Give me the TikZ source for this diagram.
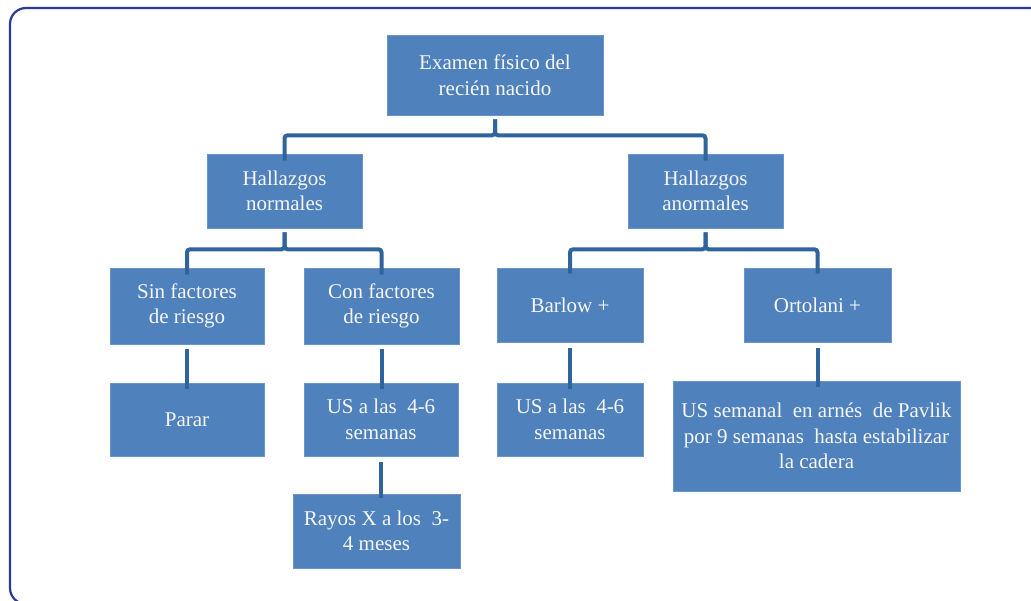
\documentclass[tikz,border=0pt]{standalone}
\usepackage{fontspec}
\setmainfont{Liberation Serif}
\usepackage{tikz}
\usetikzlibrary{positioning,calc}

\definecolor{boxblue}{HTML}{4F81BD}
\definecolor{linkblue}{HTML}{30649C}
\definecolor{framblue}{HTML}{2B3A96}

\begin{document}
\begin{tikzpicture}[x=1pt, y=-1pt,
  box/.style={fill=boxblue, draw=boxblue!85!white, line width=0.6pt, align=center, text=white!94!gray,
    font=\fontsize{21}{25.5}\selectfont, inner sep=0pt},
  link/.style={draw=linkblue, line width=4pt, rounded corners=3pt}]
  \useasboundingbox (0,0) rectangle (1031,601);
  \draw[framblue, line width=2.2pt, rounded corners=16pt] (10,8) rectangle (1060,604);

  % first levels
  \node[box, minimum width=216pt, minimum height=80pt] (root) at (495,75) {Examen físico del\\recién nacido};
  \node[box, minimum width=155pt, minimum height=74pt] (normal) at (284.5,191) {Hallazgos\\normales};
  \node[box, minimum width=155pt, minimum height=74pt] (abnormal) at (705.5,191) {Hallazgos\\anormales};

  % risk factors and tests
  \node[box, minimum width=154pt, minimum height=76pt] (sinrisk) at (187,306) {Sin factores\\de riesgo};
  \node[box, minimum width=155pt, minimum height=76pt] (conrisk) at (381.5,306) {Con factores\\de riesgo};
  \node[box, minimum width=146pt, minimum height=74pt] (barlow) at (570,305) {Barlow +};
  \node[box, minimum width=147pt, minimum height=74pt] (ortolani) at (817.5,305) {Ortolani +};

  % follow-up
  \node[box, minimum width=154pt, minimum height=73pt] (parar) at (187,419.5) {Parar};
  \node[box, minimum width=154pt, minimum height=73pt] (usnormal) at (381,419.5) {US a las\ \ 4-6\\semanas};
  \node[box, minimum width=146pt, minimum height=73pt] (usbarlow) at (570,419.5) {US a las\ \ 4-6\\semanas};
  \node[box, minimum width=287pt, minimum height=110pt] (pavlik) at (816.5,436) {US semanal\ \ en arnés\ \ de Pavlik\\por 9 semanas\ \ hasta estabilizar\\la cadera};
  \node[box, minimum width=167pt, minimum height=74pt] (rayos) at (376.5,531) {Rayos X a los\ \ 3-\\4 meses};

  \draw[link] ([yshift=-4pt]root.south) -- ++(0,16) -| ([yshift=-7pt]normal.north);
  \draw[link] ([yshift=-4pt]root.south) -- ++(0,16) -| ([yshift=-7pt]abnormal.north);
  \draw[link] ([yshift=-4pt]normal.south) -- ++(0,17) -| ([yshift=-7pt]sinrisk.north);
  \draw[link] ([yshift=-4pt]normal.south) -- ++(0,17) -| ([yshift=-7pt]conrisk.north);
  \draw[link] ([yshift=-4pt]abnormal.south) -- ++(0,17) -| ([yshift=-6pt]barlow.north);
  \draw[link] ([yshift=-4pt]abnormal.south) -- ++(0,17) -| ([yshift=-6pt]ortolani.north);
  \draw[link] ([yshift=-5pt]sinrisk.south) -- ([yshift=-6pt]parar.north);
  \draw[link] ([yshift=-5pt]conrisk.south) -- ([yshift=-6pt]conrisk.south |- usnormal.north);
  \draw[link] ([yshift=-6pt]barlow.south) -- ([yshift=-6pt]usbarlow.north);
  \draw[link] ([yshift=-6pt]ortolani.south) -- ([yshift=-6pt]ortolani.south |- pavlik.north);
  \draw[link] ([yshift=-6pt]usnormal.south) -- ([yshift=-4pt]usnormal.south |- rayos.north);
\end{tikzpicture}
\end{document}
